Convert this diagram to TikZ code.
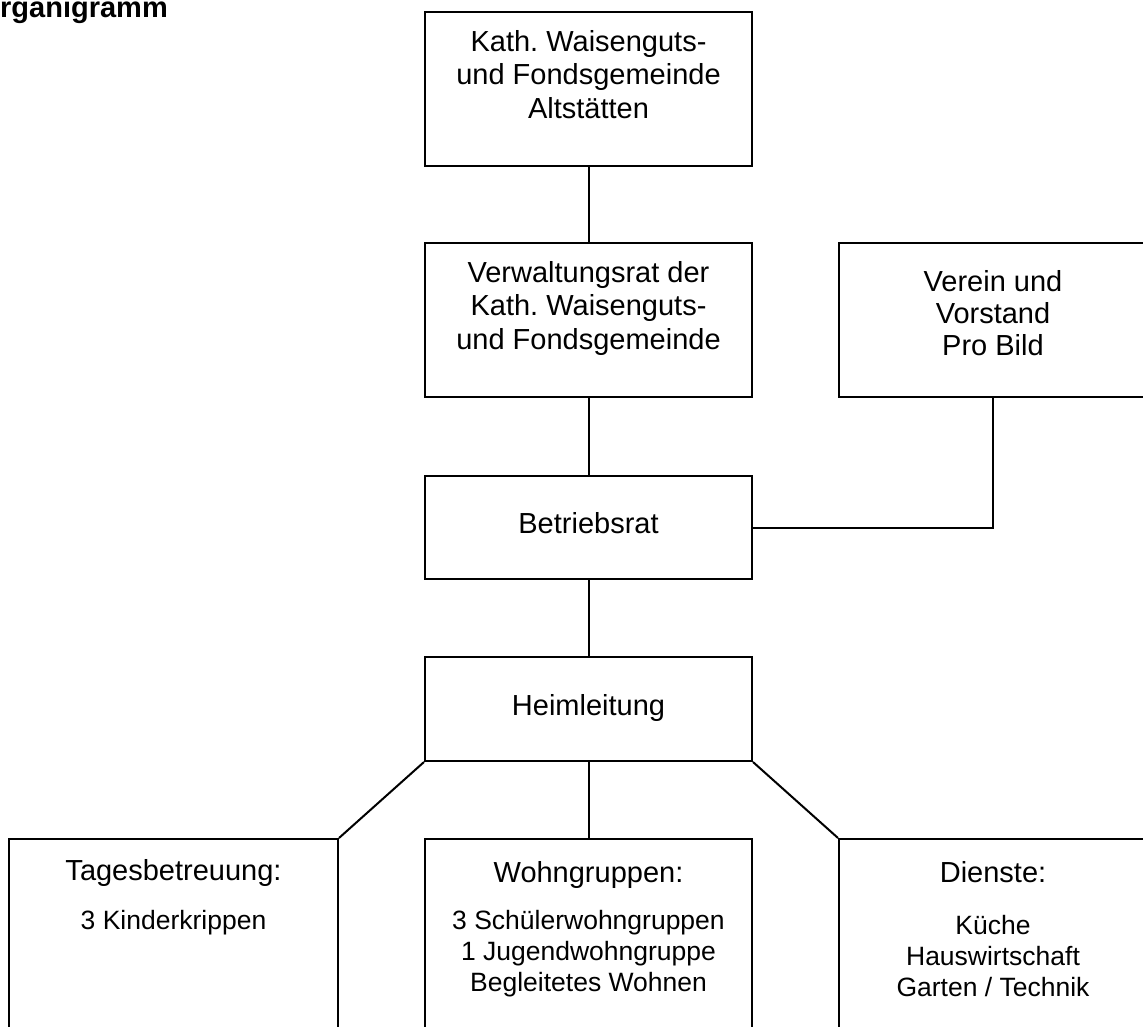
\documentclass[tikz,border=0pt]{standalone}
\usepackage{fontspec}
\setmainfont{Liberation Sans}
\frenchspacing
\begin{document}
\begin{tikzpicture}[x=1pt,y=-1pt,
  box/.style={draw,line width=2pt,rectangle,inner sep=0pt,minimum width=327pt},
  big/.style={font=\fontsize{29}{33.5}\selectfont,align=center,anchor=base,inner sep=0pt},
  small/.style={font=\fontsize{26.5}{31}\selectfont,align=center,anchor=base,inner sep=0pt},
  link/.style={line width=2pt}]
\useasboundingbox (0,0) rectangle (1143,1026);
\clip (0,0) rectangle (1143,1026);

\node[anchor=base west,inner sep=0pt,font=\bfseries\fontsize{29}{34}\selectfont] (title) at (0,17.5) {\llap{O}rganigramm};

% upper part (base = last line)
\node[box,minimum height=154pt] (kath) at (588.5,89) {};
\node[big] (kathtxt) at (588.5,118) {Kath. Waisenguts-\\und Fondsgemeinde\\Altstätten};

\node[box,minimum height=154pt] (verw) at (588.5,320) {};
\node[big] (verwtxt) at (588.5,349) {Verwaltungsrat der\\Kath. Waisenguts-\\und Fondsgemeinde};

\node[box,minimum width=308pt,minimum height=154pt] (verein) at (993,320) {};
\node[big,font=\fontsize{29}{32}\selectfont] (vereintxt) at (993,355) {Verein und\\Vorstand\\Pro Bild};

\node[box,minimum height=103pt] (betr) at (588.5,527.5) {};
\node[big] (betrtxt) at (588.5,533) {Betriebsrat};

\node[box,minimum height=104pt] (heim) at (588.5,709) {};
\node[big] (heimtxt) at (588.5,715) {Heimleitung};

% lower part
\node[box,minimum width=329pt,minimum height=261pt] (tages) at (173.5,969.5) {};
\node[big] (tageshead) at (173.5,880) {Tagesbetreuung:};
\node[small] (tagesitems) at (173.5,929.5) {3 Kinderkrippen};

\node[box,minimum height=261pt] (wohn) at (588.5,969.5) {};
\node[big] (wohnhead) at (588.5,882) {Wohngruppen:};
\node[small] (wohnitems) at (588.5,991.5) {3 Schülerwohngruppen\\1 Jugendwohngruppe\\Begleitetes Wohnen};

\node[box,minimum width=308pt,minimum height=261pt] (dienst) at (993,969.5) {};
\node[big] (diensthead) at (993,882) {Dienste:};
\node[small] (dienstitems) at (993,996.5) {Küche\\Hauswirtschaft\\Garten / Technik};

% connectors
\draw[link] (kath.south) -- (verw.north);
\draw[link] (verw.south) -- (betr.north);
\draw[link] (betr.east) -| (verein.south);
\draw[link] (betr.south) -- (heim.north);
\draw[link] (heim.south) -- (wohn.north);
\draw[link] (heim.south west) -- (tages.north east);
\draw[link] (heim.south east) -- (dienst.north west);
\end{tikzpicture}
\end{document}
